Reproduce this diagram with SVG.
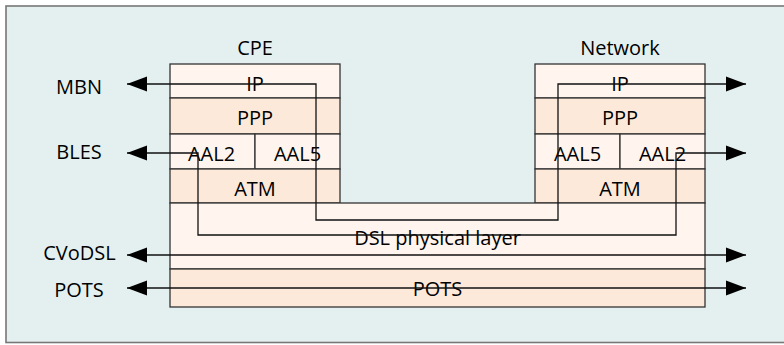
<svg xmlns="http://www.w3.org/2000/svg" width="784" height="345" viewBox="0 0 784 345">
  <defs>
    <marker id="ah" viewBox="0 0 20 16" refX="20" refY="8" markerWidth="20" markerHeight="16" markerUnits="userSpaceOnUse" orient="auto-start-reverse">
      <path d="M0,0.5 L20,8 L0,15.5 Z" fill="#000"/>
    </marker>
    <style>
      .lt { fill: #fff4ee; stroke: #333; stroke-width: 1.3; }
      .dk { fill: #fde9da; stroke: #333; stroke-width: 1.3; }
      text { font-family: "Open Sans", "Noto Sans", sans-serif; font-size: 20px; fill: #000; text-anchor: middle; }
      .conn { fill: none; stroke: #111; stroke-width: 1.3; marker-start: url(#ah); marker-end: url(#ah); }
    </style>
  </defs>
  <rect x="6" y="6" width="790" height="336.5" fill="#e4f0f0" stroke="#777" stroke-width="1.6"/>

  <g id="labels-left">
    <text x="79" y="94">MBN</text>
    <text x="79" y="159">BLES</text>
    <text x="79.5" y="260">CVoDSL</text>
    <text x="79" y="296.5">POTS</text>
  </g>

  <g id="cpe">
    <text x="255" y="55">CPE</text>
    <rect class="lt" x="170" y="64" width="170" height="34"/>
    <rect class="dk" x="170" y="98" width="170" height="36"/>
    <rect class="lt" x="170" y="134" width="85" height="35"/>
    <rect class="lt" x="255" y="134" width="85" height="35"/>
    <rect class="dk" x="170" y="169" width="170" height="34"/>
    <text x="255" y="91">IP</text>
    <text x="255" y="125">PPP</text>
    <text x="211.5" y="160.5">AAL2</text>
    <text x="297.5" y="160.5">AAL5</text>
    <text x="255" y="195.5">ATM</text>
  </g>

  <g id="network">
    <text x="620" y="55">Network</text>
    <rect class="lt" x="535" y="64" width="170" height="34"/>
    <rect class="dk" x="535" y="98" width="170" height="36"/>
    <rect class="lt" x="535" y="134" width="85" height="35"/>
    <rect class="lt" x="620" y="134" width="85" height="35"/>
    <rect class="dk" x="535" y="169" width="170" height="34"/>
    <text x="620" y="91">IP</text>
    <text x="620" y="125">PPP</text>
    <text x="577.5" y="160.5">AAL5</text>
    <text x="662.5" y="160.5">AAL2</text>
    <text x="620" y="195.5">ATM</text>
  </g>

  <g id="dsl">
    <rect class="lt" x="170" y="203" width="535" height="66"/>
    <text x="437.5" y="245">DSL physical layer</text>
  </g>

  <g id="pots">
    <rect class="dk" x="170" y="269" width="535" height="38"/>
    <text x="437.5" y="296">POTS</text>
  </g>

  <g id="connectors">
    <path class="conn" d="M127,84 H316 V220 H558 V84 H746"/>
    <path class="conn" d="M127,153 H198 V235 H676 V153 H746"/>
    <path class="conn" d="M127,255 H746"/>
    <path class="conn" d="M127,288 H746"/>
  </g>
</svg>
